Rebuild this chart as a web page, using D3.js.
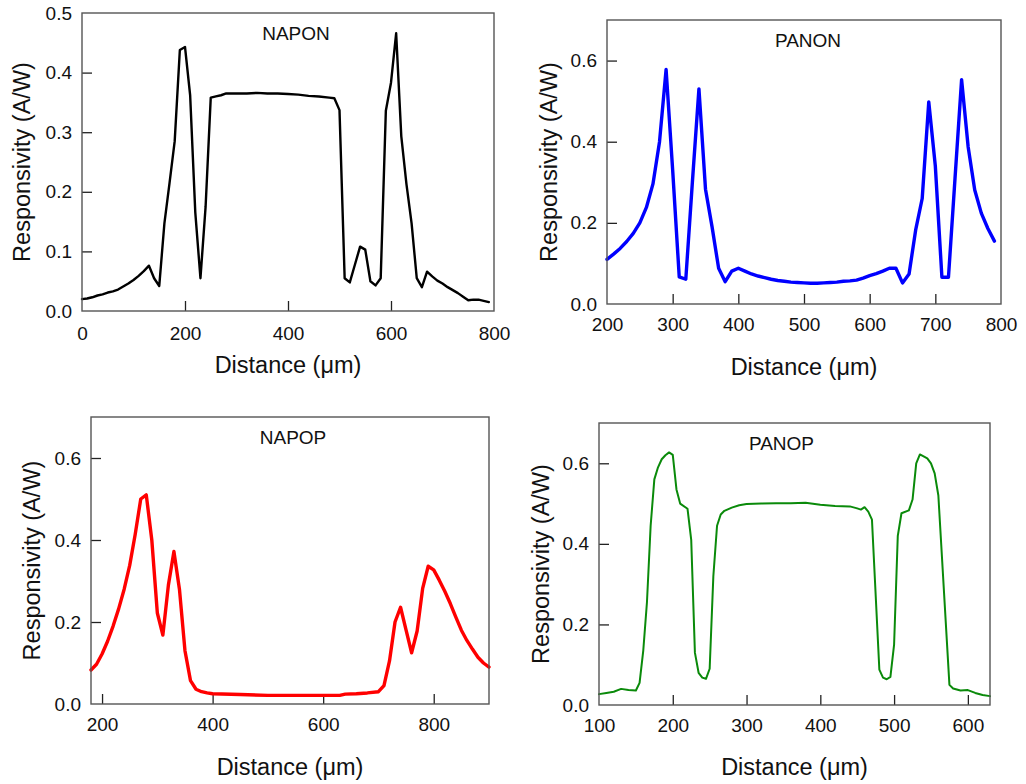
<!DOCTYPE html>
<html>
<head>
<meta charset="utf-8">
<script src="https://cdn.jsdelivr.net/npm/d3@7/dist/d3.min.js"></script>
<style>
  html, body { margin: 0; padding: 0; background: #fff; }
  svg { display: block; font-family: "Liberation Sans", Arial, sans-serif; }
</style>
</head>
<body>
<svg id="chart" width="1026" height="784"></svg>
<script>
// Responsivity line scans across four device structures

// NAPON
const naponX = [0,10,20,30,40,50,60,70,80,90,100,110,120,130,140,150,160,170,180,190,200,210,220,230,240,250,260,270,280,300,320,340,360,380,400,420,440,460,480,490,500,510,520,530,540,550,560,570,580,590,600,610,620,630,640,650,660,670,680,690,700,710,720,730,740,750,760,770,780,790];
const naponY = [0.020,0.021,0.023,0.026,0.028,0.031,0.033,0.036,0.041,0.046,0.052,0.059,0.067,0.076,0.055,0.042,0.147,0.215,0.285,0.438,0.443,0.362,0.165,0.055,0.175,0.358,0.360,0.362,0.365,0.365,0.365,0.366,0.365,0.365,0.364,0.363,0.361,0.360,0.358,0.357,0.337,0.055,0.048,0.078,0.108,0.103,0.050,0.043,0.055,0.336,0.383,0.466,0.293,0.213,0.147,0.055,0.040,0.066,0.058,0.051,0.046,0.040,0.035,0.030,0.024,0.018,0.019,0.019,0.017,0.015];

// PANON
const panonX = [200,210,220,230,240,250,260,270,280,290,300,310,320,330,340,350,360,370,380,390,400,410,420,430,440,450,460,470,480,490,500,510,520,530,540,550,560,570,580,590,600,610,620,630,640,650,660,670,680,690,700,710,720,730,740,750,760,770,780,790];
const panonY = [0.110,0.123,0.137,0.154,0.174,0.200,0.238,0.296,0.400,0.578,0.330,0.067,0.061,0.300,0.530,0.283,0.190,0.088,0.055,0.081,0.088,0.081,0.074,0.069,0.065,0.061,0.058,0.056,0.054,0.053,0.052,0.051,0.051,0.052,0.053,0.054,0.056,0.057,0.059,0.064,0.070,0.075,0.081,0.088,0.088,0.052,0.074,0.182,0.260,0.498,0.340,0.066,0.066,0.310,0.553,0.387,0.281,0.224,0.186,0.155];

// NAPOP
const napopX = [180,190,200,210,220,230,240,250,260,270,280,290,300,310,320,330,340,350,360,370,380,390,400,450,500,550,600,630,640,660,680,700,710,720,730,740,750,760,770,780,790,800,810,820,830,840,850,860,870,880,890,900];
const napopY = [0.083,0.097,0.122,0.153,0.190,0.232,0.280,0.338,0.414,0.500,0.510,0.400,0.222,0.168,0.290,0.372,0.280,0.130,0.057,0.036,0.030,0.027,0.025,0.023,0.021,0.021,0.021,0.021,0.024,0.025,0.027,0.030,0.045,0.105,0.200,0.236,0.180,0.125,0.178,0.282,0.336,0.327,0.302,0.275,0.245,0.212,0.180,0.155,0.134,0.114,0.100,0.090];

// PANOP
const panopX = [100,110,120,130,140,150,155,160,165,170,175,180,185,190,195,200,205,210,220,225,230,235,240,245,250,255,260,265,270,280,290,300,320,340,360,380,400,420,440,450,455,460,465,470,480,485,490,495,500,505,510,520,525,530,535,540,545,550,555,560,575,580,590,600,610,620,630];
const panopY = [0.027,0.030,0.033,0.040,0.037,0.036,0.055,0.135,0.255,0.445,0.560,0.590,0.610,0.620,0.627,0.621,0.535,0.500,0.487,0.410,0.130,0.080,0.068,0.065,0.090,0.320,0.445,0.473,0.482,0.490,0.496,0.499,0.500,0.501,0.501,0.502,0.497,0.494,0.493,0.488,0.485,0.491,0.480,0.460,0.088,0.068,0.064,0.070,0.150,0.420,0.476,0.483,0.510,0.600,0.622,0.617,0.612,0.600,0.575,0.520,0.050,0.041,0.036,0.037,0.030,0.025,0.022];

// Panel titles and axis ticks
const panelNames = ["NAPON", "PANON", "NAPOP", "PANOP"];
const xTicks = [[0,200,400,600,800],[200,300,400,500,600,700,800],[200,400,600,800],[100,200,300,400,500,600]];
const yTicks = [[0,0.1,0.2,0.3,0.4,0.5],[0,0.2,0.4,0.6],[0,0.2,0.4,0.6],[0,0.2,0.4,0.6]];
const xDomains = [[0,800],[200,800],[180,900],[100,630]];
const yDomains = [[0,0.5],[0,0.7],[0,0.7],[0,0.7]];

// Layout of each panel (plot box in page pixels) and styling
const layout = [
  { box: [82, 13, 494, 311],   color: "#000000", width: 2.4, titleDx: 8,   xTitleDy: 54, xLabelDy: 11, yTitleX: 22 },
  { box: [607, 20, 1001, 304], color: "#0000ff", width: 3.4, titleDx: 4,   xTitleDy: 63, xLabelDy: 9,  yTitleX: 549 },
  { box: [91, 417, 489, 704],  color: "#ff0000", width: 3.4, titleDx: 3,   xTitleDy: 63, xLabelDy: 9,  yTitleX: 32 },
  { box: [599, 423, 990, 705], color: "#0a8a0a", width: 2.0, titleDx: -13, xTitleDy: 62, xLabelDy: 9,  yTitleX: 541 }
];

const series = [
  naponX.map((x, i) => [x, naponY[i]]),
  panonX.map((x, i) => [x, panonY[i]]),
  napopX.map((x, i) => [x, napopY[i]]),
  panopX.map((x, i) => [x, panopY[i]])
];

const svg = d3.select("#chart");
const yFormat = d3.format(".1f");

layout.forEach((L, k) => {
  const [x0, y0, x1, y1] = L.box;
  const x = d3.scaleLinear().domain(xDomains[k]).range([x0, x1]);
  const y = d3.scaleLinear().domain(yDomains[k]).range([y1, y0]);
  const g = svg.append("g");

  const xDom = xDomains[k], yDom = yDomains[k];

  // inward tick marks (interior ones only; ends coincide with frame)
  const xAxis = d3.axisBottom(x).tickValues(xTicks[k]).tickSizeInner(-10).tickSizeOuter(0)
    .tickPadding(L.xLabelDy).tickFormat(d3.format("d"));
  const gx = g.append("g").attr("transform", `translate(0,${y1})`).call(xAxis);
  gx.select(".domain").remove();
  gx.selectAll(".tick line")
    .attr("stroke", "#222").attr("stroke-width", 1.3)
    .attr("display", d => (d === xDom[0] || d === xDom[1]) ? "none" : null);
  gx.selectAll(".tick text").attr("font-size", 19).attr("fill", "#111").attr("dy", "0.95em");

  const yAxis = d3.axisLeft(y).tickValues(yTicks[k]).tickSizeInner(-10).tickSizeOuter(0)
    .tickPadding(10).tickFormat(yFormat);
  const gy = g.append("g").attr("transform", `translate(${x0},0)`).call(yAxis);
  gy.select(".domain").remove();
  gy.selectAll(".tick line")
    .attr("stroke", "#222").attr("stroke-width", 1.3)
    .attr("display", d => (d === yDom[0] || d === yDom[1]) ? "none" : null);
  gy.selectAll(".tick text").attr("font-size", 19).attr("fill", "#111");

  // data line
  const line = d3.line().x(d => x(d[0])).y(d => y(d[1]));
  g.append("path")
    .datum(series[k])
    .attr("d", line)
    .attr("fill", "none")
    .attr("stroke", L.color)
    .attr("stroke-width", L.width)
    .attr("stroke-linejoin", "round")
    .attr("stroke-linecap", "round");

  // plot frame
  g.append("rect")
    .attr("x", x0).attr("y", y0)
    .attr("width", x1 - x0).attr("height", y1 - y0)
    .attr("fill", "none").attr("stroke", "#555").attr("stroke-width", 1.4);

  // panel title
  g.append("text")
    .attr("x", (x0 + x1) / 2 + L.titleDx)
    .attr("y", y0 + 20)
    .attr("dy", "0.35em")
    .attr("text-anchor", "middle")
    .attr("font-size", 19)
    .attr("fill", "#111")
    .text(panelNames[k]);

  // axis titles
  g.append("text")
    .attr("x", (x0 + x1) / 2)
    .attr("y", y1 + L.xTitleDy)
    .attr("dy", "0.35em")
    .attr("text-anchor", "middle")
    .attr("font-size", 23.5)
    .attr("fill", "#111")
    .text("Distance (μm)");

  g.append("text")
    .attr("transform", `translate(${L.yTitleX},${(y0 + y1) / 2}) rotate(-90)`)
    .attr("dy", "0.35em")
    .attr("text-anchor", "middle")
    .attr("font-size", 23.5)
    .attr("fill", "#111")
    .text("Responsivity (A/W)");
});
</script>
</body>
</html>
